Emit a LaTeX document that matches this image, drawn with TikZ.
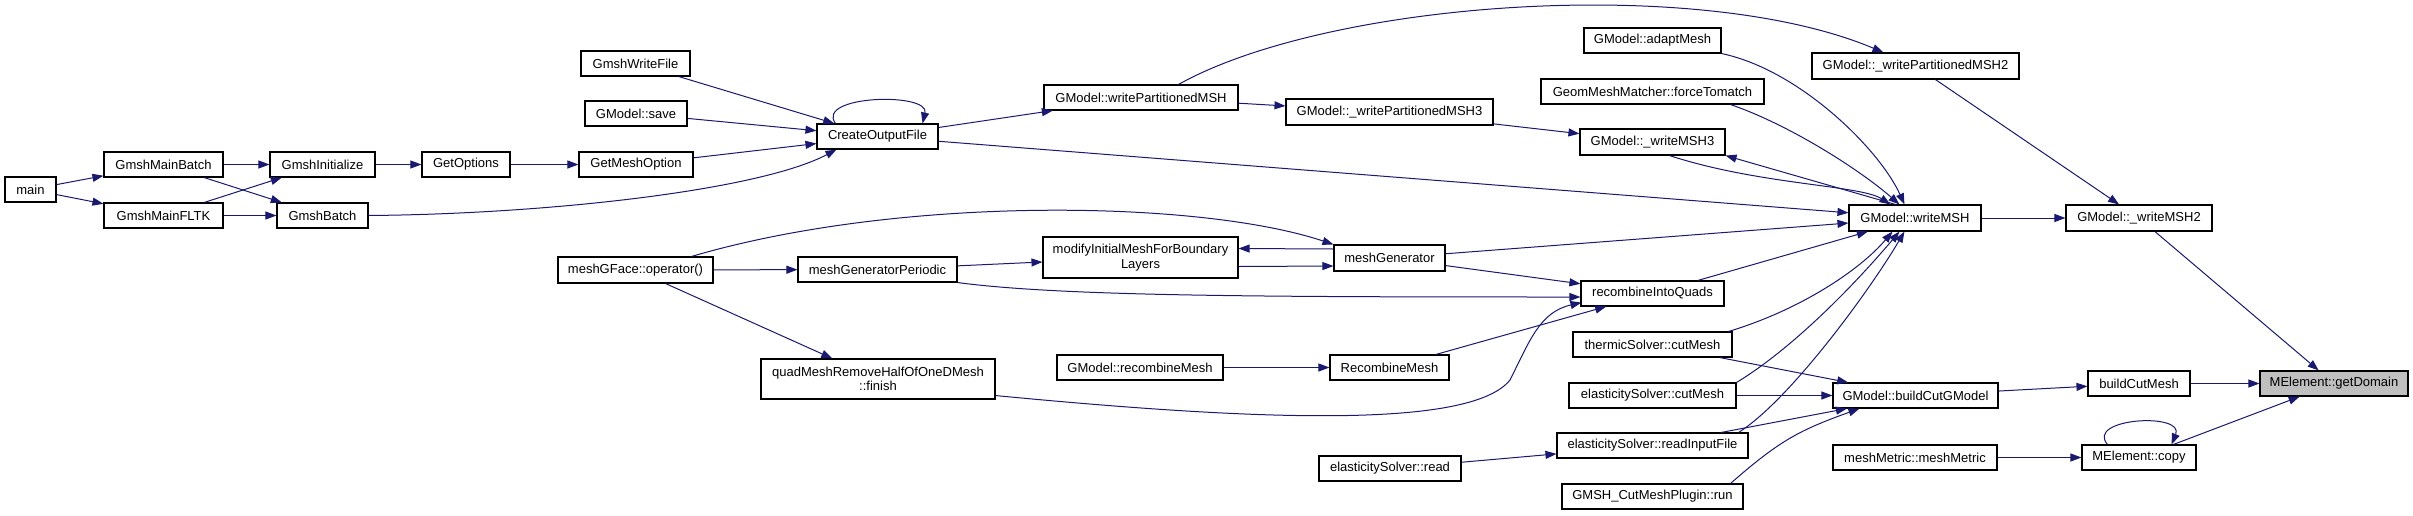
\documentclass[tikz,border=0pt]{standalone}
\usepackage{fontspec}
\setmainfont{Liberation Sans}
\usetikzlibrary{arrows.meta}
\definecolor{edgeblue}{HTML}{191970}
\definecolor{domgray}{HTML}{BFBFBF}
\begin{document}
\begin{tikzpicture}[x=1pt,y=-1pt,
  box/.style={draw=black, line width=1.1pt, fill=white, inner sep=0pt, minimum height=25pt, font=\fontsize{13}{14.5}\selectfont, align=center},
  call/.style={draw=edgeblue, line width=1pt, -{Triangle[length=11pt,width=8pt]}}]
\useasboundingbox[fill=white] (0,0) rectangle (2413,515);

\node[box,minimum width=51pt] (main) at (30.5,189.5) {main};
\node[box,minimum width=119pt] (gmb) at (163.5,164.5) {GmshMainBatch};
\node[box,minimum width=119pt] (gmf) at (163.5,215.5) {GmshMainFLTK};
\node[box,minimum width=105pt] (ginit) at (322.5,164.5) {GmshInitialize};
\node[box,minimum width=91pt] (gbatch) at (322.5,215.5) {GmshBatch};
\node[box,minimum width=88pt] (gopt) at (466,164.5) {GetOptions};
\node[box,minimum width=114pt] (gmo) at (636,164.5) {GetMeshOption};
\node[box,minimum width=109pt] (gwf) at (635.5,63.5) {GmshWriteFile};
\node[box,minimum width=102pt] (gsave) at (636,113.5) {GModel::save};
\node[box,minimum width=155pt,minimum height=26pt] (mgfop) at (635.5,270) {meshGFace::operator()};
\node[box,minimum width=121pt] (cof) at (877.5,136.5) {CreateOutputFile};
\node[box,minimum width=194pt] (wpm) at (1141,97.5) {GModel::writePartitionedMSH};
\node[box,minimum width=195pt,minimum height=41pt] (mimb) at (1140.5,257.5) {modifyInitialMeshForBoundary\\Layers};
\node[box,minimum width=159pt] (mgp) at (877.5,269.5) {meshGeneratorPeriodic};
\node[box,minimum width=234pt,minimum height=40pt] (qmr) at (878,379) {quadMeshRemoveHalfOfOneDMesh\\::finish};
\node[box,minimum width=166pt] (grm) at (1140,367.5) {GModel::recombineMesh};
\node[box,minimum width=207pt,minimum height=26pt] (wpm3) at (1389.5,112) {GModel::\_writePartitionedMSH3};
\node[box,minimum width=111pt,minimum height=26pt] (mgen) at (1389.5,258) {meshGenerator};
\node[box,minimum width=119pt] (rmesh) at (1389.5,367.5) {RecombineMesh};
\node[box,minimum width=142pt] (esread) at (1390,468.5) {elasticitySolver::read};
\node[box,minimum width=137pt] (adapt) at (1652.5,40.5) {GModel::adaptMesh};
\node[box,minimum width=223pt] (gmm) at (1652.5,91.5) {GeomMeshMatcher::forceTomatch};
\node[box,minimum width=145pt,minimum height=26pt] (wm3) at (1652.5,142) {GModel::\_writeMSH3};
\node[box,minimum width=143pt] (riq) at (1652.5,293.5) {recombineIntoQuads};
\node[box,minimum width=159pt] (tscut) at (1652.5,344.5) {thermicSolver::cutMesh};
\node[box,minimum width=167pt] (escut) at (1652.5,395.5) {elasticitySolver::cutMesh};
\node[box,minimum width=191pt] (esrif) at (1652.5,445.5) {elasticitySolver::readInputFile};
\node[box,minimum width=181pt] (cmp) at (1652.5,496.5) {GMSH\_CutMeshPlugin::run};
\node[box,minimum width=207pt,minimum height=26pt] (wpm2) at (1915.5,66) {GModel::\_writePartitionedMSH2};
\node[box,minimum width=132pt,minimum height=26pt] (wmsh) at (1915,218) {GModel::writeMSH};
\node[box,minimum width=165pt] (bcg) at (1915.5,395.5) {GModel::buildCutGModel};
\node[box,minimum width=164pt] (mmm) at (1915,457.5) {meshMetric::meshMetric};
\node[box,minimum width=146pt,minimum height=26pt] (wm2) at (2139,218) {GModel::\_writeMSH2};
\node[box,minimum width=102pt] (bcm) at (2139,383.5) {buildCutMesh};
\node[box,minimum width=114pt] (mcopy) at (2139,457.5) {MElement::copy};
\node[box,minimum width=148pt,fill=domgray] (gdom) at (2334,383.5) {MElement::getDomain};

\draw[call] (main) -- (gmb);
\draw[call] (main) -- (gmf);
\draw[call] (gmb) -- (ginit);
\draw[call] (gmb) -- (gbatch);
\draw[call] (gmf) -- (ginit);
\draw[call] (gmf) -- (gbatch);
\draw[call] (ginit) -- (gopt);
\draw[call] (gopt) -- (gmo);
\draw[call] (gbatch.east) .. controls (550,214) and (760,190) .. ([xshift=20pt]cof.south west);
\draw[call] (gwf) -- (cof);
\draw[call] (gsave) -- (cof);
\draw[call] (gmo) -- (cof);
\draw[call] ([xshift=19pt]cof.north west) .. controls (815,95) and (930,92) .. ([xshift=-16pt]cof.north east);
\draw[call] (cof) -- (wpm);
\draw[call] (cof) -- (wmsh);
\draw[call] (wpm) -- (wpm3);
\draw[call] ([xshift=135pt]wpm.north west) .. controls (1330,0) and (1700,-25) .. ([xshift=72pt]wpm2.north west);
\draw[call] (wpm3) -- (wm3);
\draw[call] ([xshift=90pt]wm3.south west) .. controls (1760,185) and (1860,185) .. ([xshift=42pt]wmsh.north west);
\draw[call] ([xshift=47pt]wmsh.north west) -- (wm3.south east);
\draw[call] (adapt.south east) .. controls (1800,70) and (1880,150) .. ([xshift=56pt]wmsh.north west);
\draw[call] ([xshift=-34pt]gmm.south east) .. controls (1790,125) and (1860,170) .. ([xshift=51pt]wmsh.north west);
\draw[call] (wpm2) -- (wm2);
\draw[call] (wmsh) -- (wm2);
\draw[call] (wm2) -- (gdom);
\draw[call] (mgen) -- (wmsh);
\draw[call] ([yshift=9pt]mgen.west) -- ([yshift=9pt]mimb.east);
\draw[call] ([yshift=-9pt]mimb.east) -- ([yshift=-8pt]mgen.west);
\draw[call] ([xshift=-22pt]mgfop.north east) .. controls (900,195) and (1200,200) .. (mgen.north west);
\draw[call] (mgfop) -- (mgp);
\draw[call] (mgp) -- (mimb);
\draw[call] (mgp.south east) .. controls (1060,296) and (1250,297) .. ([yshift=-3.5pt]riq.west);
\draw[call] (mgfop) -- (qmr);
\draw[call] ([yshift=4pt]qmr.south east) .. controls (1250,420) and (1470,430) .. (1510,380) .. controls (1530,340) and (1540,312) .. ([xshift=1pt,yshift=4pt]riq.south west);
\draw[call] (mgen) -- (riq);
\draw[call] (grm) -- (rmesh);
\draw[call] (rmesh) -- (riq);
\draw[call] (riq) -- (wmsh);
\draw[call] ([xshift=-4pt]tscut.north east) .. controls (1800,310) and (1860,270) .. ([xshift=44pt]wmsh.south west);
\draw[call] (escut.north east) .. controls (1790,350) and (1850,290) .. ([xshift=51pt]wmsh.south west);
\draw[call] ([xshift=-10pt]esrif.north east) .. controls (1790,400) and (1870,290) .. ([xshift=56pt]wmsh.south west);
\draw[call] (tscut) -- (bcg);
\draw[call] (escut) -- (bcg);
\draw[call] (esrif) -- (bcg);
\draw[call] (esread) -- (esrif);
\draw[call] ([xshift=-13pt]cmp.north east) .. controls (1780,440) and (1800,430) .. ([xshift=27pt]bcg.south west);
\draw[call] (bcg) -- (bcm);
\draw[call] (bcm) -- (gdom);
\draw[call] (mmm) -- (mcopy);
\draw[call] ([xshift=26pt]mcopy.north west) .. controls (2085,418) and (2185,412) .. ([xshift=-25pt]mcopy.north east);
\draw[call] (mcopy) -- (gdom);
\end{tikzpicture}
\end{document}
